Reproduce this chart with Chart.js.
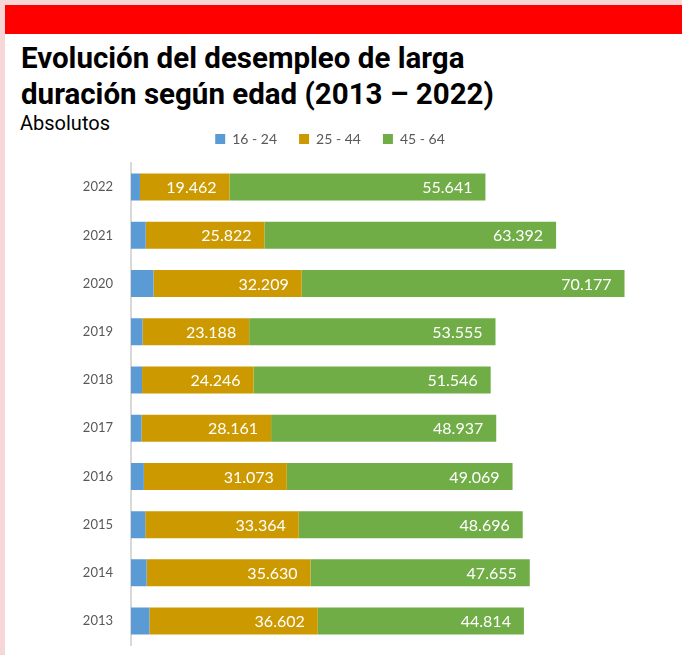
<!DOCTYPE html>
<html>
<head>
<meta charset="utf-8">
<script src="https://cdn.jsdelivr.net/npm/chart.js@4"></script>
<style>
  html, body { margin: 0; padding: 0; }
  body { width: 682px; height: 655px; background: #f6d6d6; position: relative; overflow: hidden; }
  .panel { position: absolute; left: 5px; top: 5px; width: 677px; height: 650px; background: #ffffff; }
  .redbar { position: absolute; left: 5px; top: 5px; width: 677px; height: 29px; background: #ff0000; }
  .title { position: absolute; left: 21px; top: 40px; font-family: Roboto, sans-serif; font-weight: 700;
           font-size: 29.5px; line-height: 36px; color: #000; }
  .subtitle { position: absolute; left: 20px; top: 111px; font-family: Roboto, sans-serif; font-size: 20px; color: #000; }
  #chartBox { position: absolute; left: 0; top: 110px; width: 682px; height: 561px; }
</style>
</head>
<body>
<div class="panel"></div>
<div class="redbar"></div>
<div class="title">Evolución del desempleo de larga<br>duración según edad (2013 – 2022)</div>
<div class="subtitle">Absolutos</div>
<div id="chartBox"><canvas id="chart"></canvas></div>

<script>
// ========== Data ==========
const years = ["2022", "2021", "2020", "2019", "2018", "2017", "2016", "2015", "2014", "2013"];
const age16to24 = [1950, 3200, 4900, 2500, 2400, 2300, 2800, 3100, 3400, 4000];
const age25to44 = [19462, 25822, 32209, 23188, 24246, 28161, 31073, 33364, 35630, 36602];
const age45to64 = [55641, 63392, 70177, 53555, 51546, 48937, 49069, 48696, 47655, 44814];

const seriesNames = ["16 - 24", "25 - 44", "45 - 64"];
const seriesColors = ["#5b9bd5", "#cc9a00", "#70ad47"];

// ========== Helpers ==========
function fmtThousands(v) {
  return String(Math.round(v)).replace(/\B(?=(\d{3})+(?!\d))/g, ".");
}

// labels drawn inside the end of orange / green segments
const endLabels = {
  id: "endLabels",
  afterDatasetsDraw(chart) {
    const ctx = chart.ctx;
    ctx.save();
    ctx.font = "16px Lato, sans-serif";
    ctx.fillStyle = "#ffffff";
    ctx.textAlign = "right";
    ctx.textBaseline = "middle";
    [1, 2].forEach(di => {
      const meta = chart.getDatasetMeta(di);
      meta.data.forEach((bar, i) => {
        const v = chart.data.datasets[di].data[i];
        ctx.fillText(fmtThousands(v), bar.x - 13, bar.y + 1);
      });
    });
    ctx.restore();
  }
};

// extra room under the legend
const legendGap = {
  id: "legendGap",
  beforeInit(chart) {
    const origFit = chart.legend.fit;
    chart.legend.fit = function () {
      origFit.bind(chart.legend)();
      this.height += 7;
    };
  }
};

const datasets = [age16to24, age25to44, age45to64].map((vals, i) => ({
  label: seriesNames[i],
  data: vals,
  backgroundColor: seriesColors[i],
  borderWidth: 0,
  barPercentage: 0.56,
  categoryPercentage: 1
}));

new Chart(document.getElementById("chart"), {
  type: "bar",
  data: { labels: years, datasets },
  plugins: [endLabels, legendGap],
  options: {
    indexAxis: "y",
    responsive: true,
    maintainAspectRatio: false,
    animation: false,
    layout: { padding: { left: 0, right: 22, top: 0, bottom: 10 } },
    plugins: {
      legend: {
        position: "top",
        labels: {
          boxWidth: 10,
          boxHeight: 10,
          padding: 22,
          color: "#595959",
          font: { family: "Lato, sans-serif", size: 14 }
        }
      },
      tooltip: { enabled: false }
    },
    scales: {
      x: { stacked: true, min: 0, max: 115000, display: false },
      y: {
        stacked: true,
        grid: { display: false, drawTicks: false },
        border: { display: true, color: "#d9d9d9", width: 2 },
        ticks: { color: "#595959", padding: 18, font: { family: "Lato, sans-serif", size: 13 } },
        afterFit: s => { s.width = 131; }
      }
    }
  }
});
</script>
</body>
</html>
